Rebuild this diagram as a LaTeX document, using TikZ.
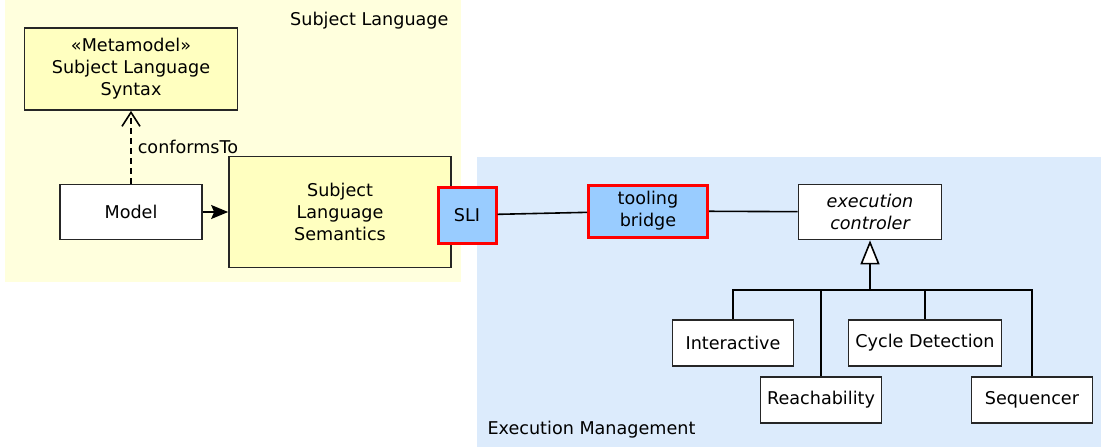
\documentclass[tikz,border=0pt]{standalone}
\usepackage{fontspec}
\setmainfont{DejaVu Sans}
\usetikzlibrary{arrows.meta}
\definecolor{pkgyellow}{RGB}{255,255,221}
\definecolor{clsyellow}{RGB}{255,255,192}
\definecolor{pkgblue}{RGB}{220,235,252}
\definecolor{sliblue}{RGB}{153,204,255}

\begin{document}
\begin{tikzpicture}[x=1pt,y=-1pt,
    font=\fontsize{17.6}{22}\selectfont,
    cls/.style={draw=black!85,line width=1.7pt,fill=white,align=center,inner sep=0pt},
    meta/.style={cls,fill=clsyellow},
    port/.style={cls,draw=red,line width=3pt,fill=sliblue},
    leaf/.style={cls,minimum width=121pt,minimum height=46pt}]
    \useasboundingbox (0,0) rectangle (1101,447);
    % packages
    \fill[pkgyellow] (5,0) rectangle (461,282);
    \fill[pkgblue] (477,157) rectangle (1101,447);
    \node[anchor=east] (sltitle) at (452,21) {Subject Language};
    \node[anchor=west] (emtitle) at (484,430) {Execution Management};
    % subject language
    \node[meta,minimum width=213pt,minimum height=82pt] (syntax) at (131,69)
        {«Metamodel»\\Subject Language\\Syntax};
    \node[cls,minimum width=142pt,minimum height=55pt] (model) at (131,212) {Model};
    \node[meta,minimum width=222pt,minimum height=111pt] (sem) at (340,212)
        {Subject\\Language\\Semantics};
    \node[port,minimum width=58pt,minimum height=56pt] (sli) at (467,215) {SLI};
    % execution management
    \node[port,minimum width=119pt,minimum height=52pt] (bridge) at (648,211) {tooling\\bridge};
    \node[cls,minimum width=143pt,minimum height=55pt,font=\fontsize{17.6}{22}\selectfont\itshape] (ctrl) at (870,212)
        {execution\\controler};
    \node[leaf] (inter) at (733,343) {Interactive};
    \node[leaf] (reach) at (821,400) {Reachability};
    \node[leaf,minimum width=153pt] (cycle) at (925,343) {Cycle Detection};
    \node[leaf] (seq) at (1032,400) {Sequencer};
    \coordinate (bus) at (870,290);

    \draw[line width=1.6pt,dash pattern=on 6pt off 4pt,-{Straight Barb[length=14pt,width=18pt]}]
        (model) -- node[right,inner sep=6pt] {conformsTo} (syntax);
    \draw[line width=1.6pt,-{Stealth[length=17pt,width=14pt,inset=3pt]}] (model) -- (sem);
    \path[line width=1.6pt]
        (sli) edge (bridge)
        (bridge) edge (ctrl);
    \draw[line width=1.6pt] (inter.north) |- (bus)
        (reach.north) |- (bus)
        (cycle.north) |- (bus)
        (seq.north) |- (bus);
    \draw[line width=2pt,-{Triangle[length=24pt,width=19pt,fill=white,line width=1.6pt]}] (bus) -- (ctrl);
\end{tikzpicture}
\end{document}
